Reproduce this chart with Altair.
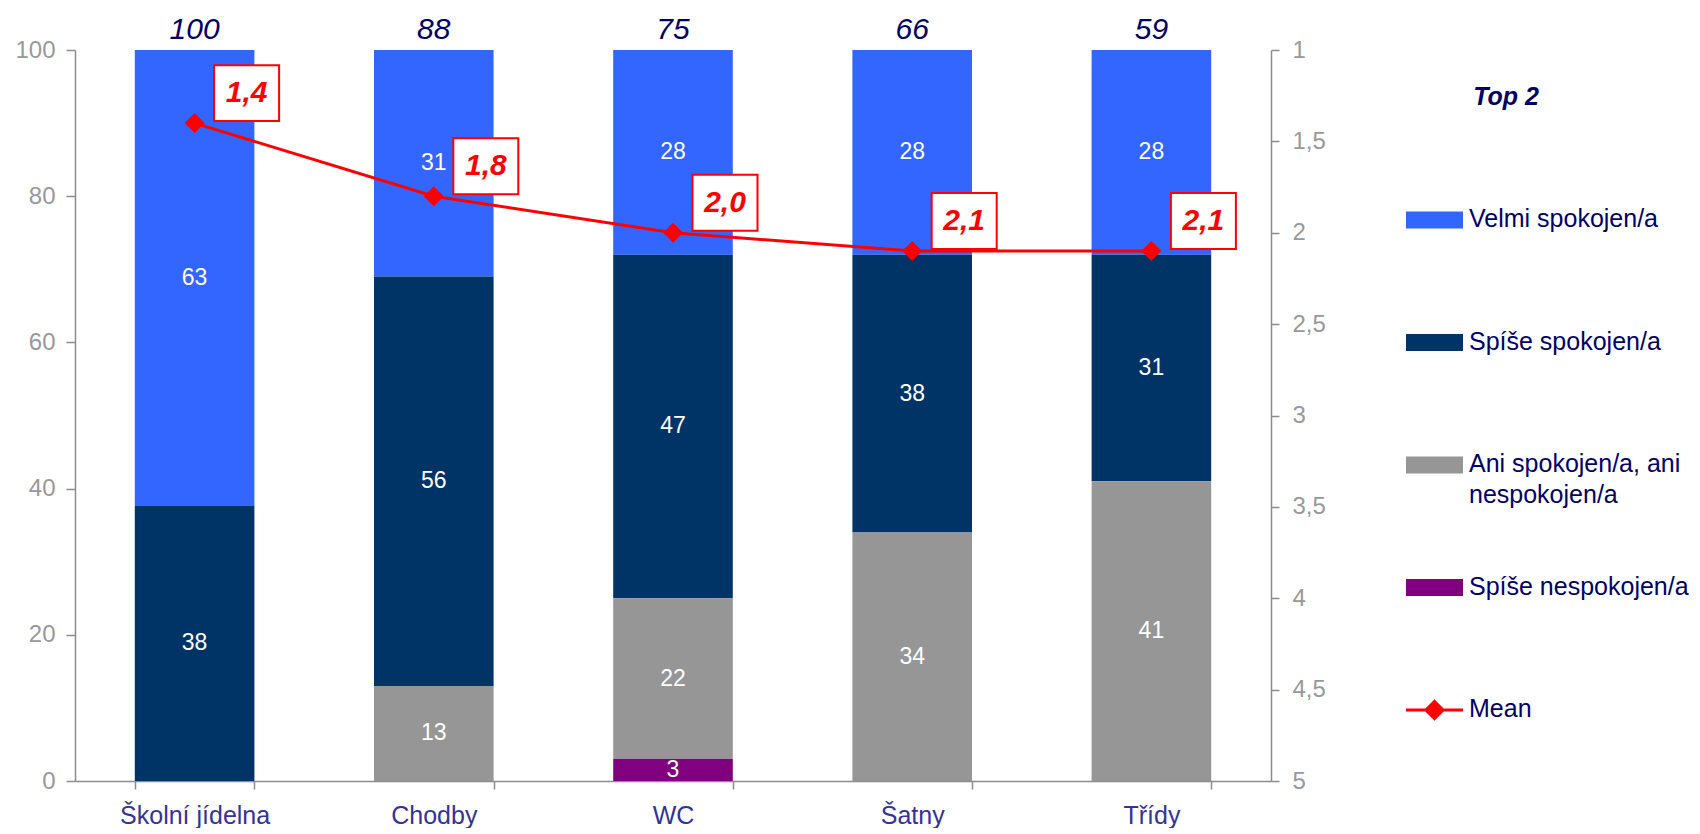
import altair as alt
import pandas as pd

# ---------------- data ----------------
CATEGORIES = ["Školní jídelna", "Chodby", "WC", "Šatny", "Třídy"]
SERIES = ["Velmi spokojen/a", "Spíše spokojen/a", "Ani spokojen/a, ani nespokojen/a", "Spíše nespokojen/a"]
VELMI = [63, 31, 28, 28, 28]
SPISE = [38, 56, 47, 38, 31]
ANI = [0, 13, 22, 34, 41]
NESP = [0, 0, 3, 0, 0]
TOP2 = [100, 88, 75, 66, 59]
MEAN = [1.4, 1.8, 2.0, 2.1, 2.1]
MEAN_NAME = "Mean"
LEGEND_TITLE = "Top 2"
LEGEND_LABELS = ["Velmi spokojen/a", "Spíše spokojen/a", "Ani spokojen/a, ani\nnespokojen/a", "Spíše nespokojen/a", "Mean"]
LEFT_TICKS = [0, 20, 40, 60, 80, 100]
RIGHT_TICKS = [1, 1.5, 2, 2.5, 3, 3.5, 4, 4.5, 5]

# ---------------- styles ----------------
COLORS = ["#3366FF", "#003366", "#969696", "#800080"]
MEAN_COLOR = "#FF0000"
FONT = "Liberation Sans"
NAVY = "#000066"

series_values = [VELMI, SPISE, ANI, NESP]
rows = []
for ci, cat in enumerate(CATEGORIES):
    for si, s in enumerate(SERIES):
        v = series_values[si][ci]
        if v > 0:
            rows.append({"cat": cat, "series": s, "value": v, "rank": len(SERIES) - si})
bars_df = pd.DataFrame(rows)
top_df = pd.DataFrame({"cat": CATEGORIES, "top2": TOP2})
mean_df = pd.DataFrame({"cat": CATEGORIES, "mean": MEAN})
legend_df = pd.DataFrame({
    "entry": SERIES + [MEAN_NAME],
    "label": LEGEND_LABELS,
})

color_scale = alt.Scale(domain=SERIES, range=COLORS)
x_enc = alt.X(
    "cat:N", sort=CATEGORIES, title=None,
    scale=alt.Scale(paddingInner=0.5, paddingOuter=0.25),
    axis=alt.Axis(labelAngle=0, tickBand="extent", tickSize=8, labelPadding=14,
                  labelFontSize=25, labelColor="#333399", labelFont=FONT),
)
y_scale = alt.Scale(domain=[0, 100])

base_bars = alt.Chart(bars_df).transform_joinaggregate(
    total="sum(value)", groupby=["cat"]
).transform_calculate(
    pct="datum.value / datum.total * 100"
).transform_stack(
    stack="pct", groupby=["cat"], as_=["y0", "y1"], sort=[alt.SortField("rank")]
).transform_calculate(mid="(datum.y0 + datum.y1) / 2")

bars = base_bars.mark_bar().encode(
    x=x_enc,
    y=alt.Y("y0:Q", scale=y_scale, title=None,
            axis=alt.Axis(values=LEFT_TICKS, tickSize=9, labelPadding=11, labelFontSize=24)),
    y2="y1:Q",
    color=alt.Color("series:N", scale=color_scale, legend=None),
)
bar_labels = base_bars.mark_text(color="white", fontSize=23, font=FONT, baseline="middle").encode(
    x=alt.X("cat:N", sort=CATEGORIES),
    y=alt.Y("mid:Q", scale=y_scale),
    text=alt.Text("value:Q"),
)
top_labels = alt.Chart(top_df).mark_text(
    color=NAVY, fontSize=30, font=FONT, fontStyle="italic", baseline="alphabetic", dy=-11
).encode(
    x=alt.X("cat:N", sort=CATEGORIES),
    y=alt.datum(100, scale=y_scale),
    text=alt.Text("top2:Q"),
)
left_layer = alt.layer(bars, bar_labels, top_labels)

mean_y = alt.Y(
    "mean:Q", title=None,
    scale=alt.Scale(domain=[1, 5], reverse=True),
    axis=alt.Axis(orient="right", values=RIGHT_TICKS, tickSize=8, labelPadding=13, labelFontSize=24,
                  labelExpr="replace(toString(datum.value), '.', ',')"),
)
mean_base = alt.Chart(mean_df).transform_calculate(
    lbl="replace(format(datum.mean, '.1f'), '.', ',')"
)
mean_line = mean_base.mark_line(color=MEAN_COLOR, strokeWidth=3).encode(
    x=alt.X("cat:N", sort=CATEGORIES), y=mean_y
)
mean_pts = mean_base.mark_point(shape="diamond", size=400, filled=True, color=MEAN_COLOR, opacity=1).encode(
    x=alt.X("cat:N", sort=CATEGORIES), y=alt.Y("mean:Q")
)
DX, DY = 52, -30
mean_box = mean_base.mark_point(
    shape="M-1,-0.86L1,-0.86L1,0.86L-1,0.86Z", size=4225, filled=True, fill="white",
    fillOpacity=1, stroke=MEAN_COLOR, strokeWidth=2, opacity=1, xOffset=DX, yOffset=DY,
).encode(x=alt.X("cat:N", sort=CATEGORIES), y=alt.Y("mean:Q"))
mean_text = mean_base.mark_text(
    color=MEAN_COLOR, fontSize=30, font=FONT, fontWeight="bold", fontStyle="italic",
    dx=DX, dy=DY, baseline="middle",
).encode(x=alt.X("cat:N", sort=CATEGORIES), y=alt.Y("mean:Q"), text="lbl:N")
right_layer = alt.layer(mean_line, mean_pts, mean_box, mean_text)

# ---------------- legend (drawn as marks right of the plot) ----------------
leg_y = alt.Y("entry:N", sort=SERIES + [MEAN_NAME], axis=None,
              scale=alt.Scale(type="point", range=[170, 660], padding=0))
leg_base = alt.Chart(legend_df)
leg_rects = leg_base.transform_filter(alt.datum.entry != MEAN_NAME).mark_point(
    shape="M-1,-0.3L1,-0.3L1,0.3L-1,0.3Z", size=3249, filled=True, opacity=1, strokeWidth=0
).encode(
    x=alt.value(1359.5), y=leg_y,
    color=alt.Color("entry:N", scale=color_scale, legend=None),
)
leg_mean = leg_base.transform_filter(alt.datum.entry == MEAN_NAME).mark_point(
    shape="M-1,0L1,0M0,-0.3L0.3,0L0,0.3L-0.3,0Z", size=3249, filled=True, fill=MEAN_COLOR,
    stroke=MEAN_COLOR, strokeWidth=3, opacity=1,
).encode(x=alt.value(1359.5), y=leg_y)
leg_text = leg_base.mark_text(
    align="left", baseline="top", dy=-13, fontSize=25, font=FONT, color=NAVY, lineBreak="\n", lineHeight=31
).encode(x=alt.value(1394), y=leg_y, text="label:N")
leg_title = alt.Chart(pd.DataFrame({"t": [LEGEND_TITLE]})).mark_text(
    fontSize=25, font=FONT, fontWeight="bold", fontStyle="italic", color=NAVY, baseline="middle"
).encode(x=alt.value(1431), y=alt.value(47), text="t:N")
legend_layer = alt.layer(leg_rects, leg_mean, leg_text, leg_title)

chart = alt.layer(left_layer, right_layer, legend_layer).resolve_scale(
    y="independent"
).properties(
    width=1196, height=731,
    padding={"left": 6, "top": 7, "right": 0, "bottom": 0},
).configure_view(strokeWidth=0).configure_axis(
    grid=False, domainColor="#8c8c8c", tickColor="#8c8c8c", domainWidth=1.5, tickWidth=1.5,
    labelColor="#999999", labelFont=FONT,
)

chart.save("out.html", embed_options={"renderer": "svg", "actions": False})
